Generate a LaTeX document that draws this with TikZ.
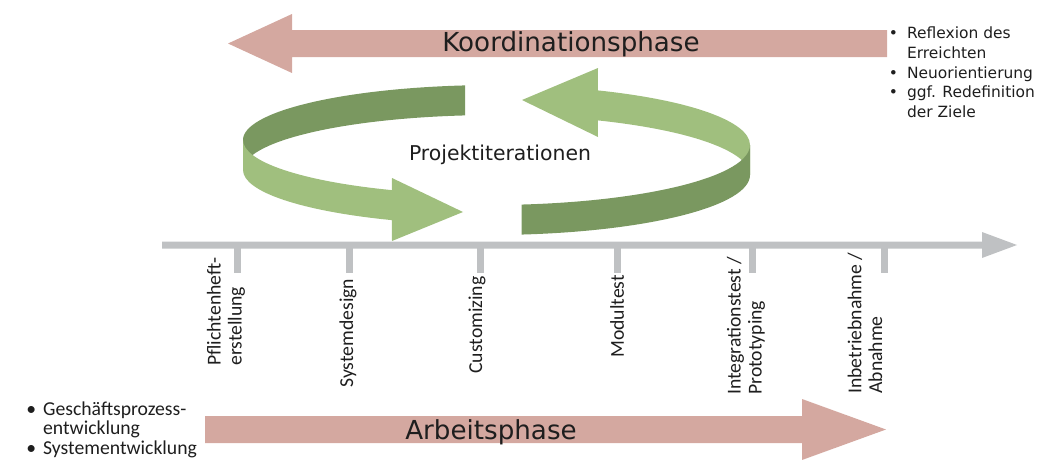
\documentclass[tikz,border=0pt]{standalone}
\usepackage{fontspec}
\setmainfont{DejaVu Sans}
\newfontfamily\calibriFont{Carlito}
\usetikzlibrary{calc}
\definecolor{rosaFase}{RGB}{212,168,160}
\definecolor{verdFosc}{RGB}{122,152,96}
\definecolor{verdClar}{RGB}{160,191,126}
\definecolor{grisEix}{RGB}{191,193,195}
\definecolor{textFosc}{RGB}{30,30,30}
\tikzstyle{fletxaFase} = [fill=rosaFase]
\tikzstyle{cintaFosca} = [fill=verdFosc]
\tikzstyle{cintaClara} = [fill=verdClar]
\tikzstyle{eixTemps} = [fill=grisEix]
\tikzstyle{marcaEix} = [rectangle, fill=grisEix, minimum width=0.175cm, minimum height=0.7cm, inner sep=0]
\tikzstyle{textFase} = [font=\fontsize{18.6}{21}\selectfont, text=textFosc, inner sep=0]
\tikzstyle{textIteracio} = [font=\fontsize{14.5}{17}\selectfont, text=textFosc, inner sep=0]
\tikzstyle{textMarca} = [font=\calibriFont\fontsize{14}{14.8}\selectfont, text=textFosc, rotate=90, anchor=west, align=left, inner sep=0]
\tikzstyle{textNotes} = [font=\fontsize{11}{13.9}\selectfont, text=textFosc, anchor=north west, inner sep=0]
\tikzstyle{textNotesTreball} = [font=\calibriFont\fontsize{14}{14}\selectfont, text=textFosc, anchor=north west, inner sep=0]

\begin{document}
\begin{tikzpicture}[x=0.025cm, y=-0.025cm]
	\useasboundingbox (0,0) rectangle (1048,460);
	
	% Fletxes de les fases
	\fill [fletxaFase] (228,43.5) -- (292,14) -- (292,30) -- (887,30) -- (887,57) -- (292,57) -- (292,73) -- cycle;
	\fill [fletxaFase] (886,429.5) -- (802,399) -- (802,416) -- (205,416) -- (205,443) -- (802,443) -- (802,460) -- cycle;
	
	% Eix del temps
	\fill [eixTemps] (162,241.5) -- (982,241.5) -- (982,232) -- (1017,245) -- (982,258) -- (982,248.5) -- (162,248.5) -- cycle;
	
	% Cinta esquerra (darrere fosca, davant clara)
	\fill [cintaFosca] (496,140) ++(263:253 and 55) arc [start angle=263, end angle=180, x radius=253, y radius=55] -- ++(0,30) arc [start angle=180, end angle=263, x radius=253, y radius=55] -- cycle;
	\fill [cintaClara] (496,140) ++(180:253 and 55) arc [start angle=180, end angle=114.3, x radius=253, y radius=55] -- (392,178) -- (463,212) -- (392,241) -- ($(496,170)+(114.3:253 and 55)$) arc [start angle=114.3, end angle=180, x radius=253, y radius=55] -- cycle;
	
	% Cinta dreta (darrere clara, davant fosca)
	\fill [cintaClara] (490,145) ++(294.5:260 and 60) arc [start angle=294.5, end angle=360, x radius=260, y radius=60] -- ++(0,30) arc [start angle=360, end angle=294.5, x radius=260, y radius=60] -- (598,137) -- (522,100) -- (598,68) -- cycle;
	\fill [cintaFosca] (490,145) ++(83:260 and 60) arc [start angle=83, end angle=0, x radius=260, y radius=60] -- ++(0,30) arc [start angle=0, end angle=83, x radius=260, y radius=60] -- cycle;
	
	
	% Definicio de nodes
	\node (fase1) [textFase] at (571,44) {Koordinationsphase};
	\node (fase2) [textFase] at (491,432) {Arbeitsphase};
	\node (iteracions) [textIteracio] at (500,155) {Projektiterationen};
	
	\node (marca1) [marcaEix] at (237,259) {};
	\node (marca2) [marcaEix] at (349,259) {};
	\node (marca3) [marcaEix] at (480,259) {};
	\node (marca4) [marcaEix] at (617,259) {};
	\node (marca5) [marcaEix] at (752,259) {};
	\node (marca6) [marcaEix] at (884,259) {};
	
	%etiquetes de les marques (text girat)
	\node (etiqueta1) [textMarca] at (226,366) {Pflichtenheft-\\erstellung};
	\node (etiqueta2) [textMarca] at (348,388) {Systemdesign};
	\node (etiqueta3) [textMarca] at (477,374) {Customizing};
	\node (etiqueta4) [textMarca] at (617,358) {Modultest};
	\node (etiqueta5) [textMarca] at (746,395) {Integrationstest /\\Prototyping};
	\node (etiqueta6) [textMarca] at (865,394) {Inbetriebnahme /\\Abnahme};
	
	%notes de cada fase
	\node (notesCoord) [textNotes] at (888.5,25) {
		\begin{tabular}{@{}l@{\hspace{6.5pt}}l@{}}
			\textbullet & Reflexion des\\
			& Erreichten\\
			\textbullet & Neuorientierung\\
			\textbullet & ggf. Redefinition\\
			& der Ziele
		\end{tabular}
	};
	\node (notesTreball) [textNotesTreball] at (26,401) {
		\begin{tabular}{@{}l@{\hspace{5pt}}l@{}}
			\textbullet & Geschäftsprozess-\\
			& entwicklung\\
			\textbullet & Systementwicklung
		\end{tabular}
	};
	
\end{tikzpicture}
\end{document}
